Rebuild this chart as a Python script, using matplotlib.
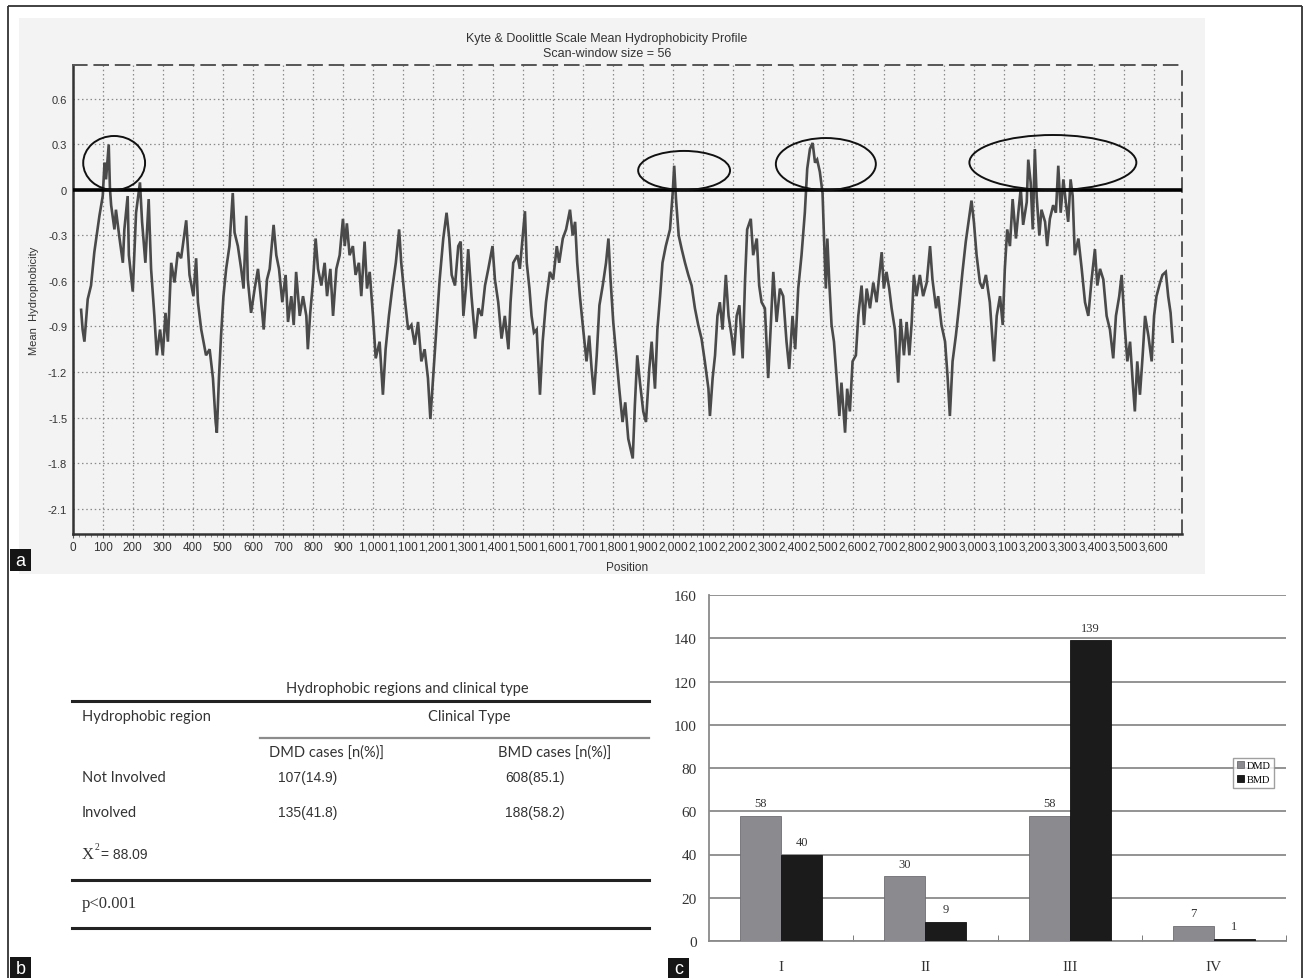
import matplotlib
matplotlib.use("Agg")
import numpy as np
import matplotlib.pyplot as plt
from matplotlib.patches import Ellipse, Rectangle
from matplotlib.ticker import MultipleLocator, FixedLocator, FuncFormatter

W, H, DPI = 1303, 979, 100

# ---------------------------------------------------------------------------
# Kyte & Doolittle mean hydrophobicity profile (scan window 56): (position, value)
profile_n_term = [
    (28, -0.79), (33, -0.92), (39, -1.00), (50, -0.72), (61, -0.63), (72, -0.41),
    (89, -0.17), (100, -0.04), (106, 0.18), (111, 0.07), (120, 0.30), (124, 0.01),
    (128, -0.10), (139, -0.26), (144, -0.13), (156, -0.32), (167, -0.48), (172, -0.26),
    (183, -0.04), (187, -0.43), (200, -0.67), (211, -0.15), (224, 0.05), (231, -0.21),
    (242, -0.48), (253, -0.06), (261, -0.52), (272, -0.83), (280, -1.09), (291, -0.92),
    (300, -1.09), (309, -0.81), (317, -1.00), (328, -0.48), (339, -0.61), (350, -0.41),
    (361, -0.45), (378, -0.20), (389, -0.56), (402, -0.70), (411, -0.45), (417, -0.74),
    (428, -0.92), (444, -1.09), (456, -1.05), (467, -1.24), (476, -1.53), (480, -1.60),
    (487, -1.24), (494, -0.96), (502, -0.70), (511, -0.52), (522, -0.37), (533, -0.02),
    (539, -0.28), (550, -0.37), (561, -0.52), (569, -0.65), (578, -0.17), (583, -0.59),
    (594, -0.81), (606, -0.65), (617, -0.52), (628, -0.74), (636, -0.92), (647, -0.59),
    (656, -0.52), (669, -0.23), (678, -0.43), (687, -0.52), (698, -0.74), (709, -0.56),
    (717, -0.87), (728, -0.70), (736, -0.89), (744, -0.54), (756, -0.83), (767, -0.70),
    (778, -0.83), (783, -1.05), (791, -0.81), (800, -0.61), (809, -0.32), (817, -0.52),
    (828, -0.63), (839, -0.48), (847, -0.70), (858, -0.52), (867, -0.83), (878, -0.52),
    (889, -0.43), (900, -0.19), (906, -0.37), (913, -0.22), (922, -0.43), (933, -0.37),
    (942, -0.56), (953, -0.48), (961, -0.70), (972, -0.34), (980, -0.65), (989, -0.54),
    (1000, -0.83), (1009, -1.11), (1022, -1.00), (1033, -1.35), (1042, -1.05), (1053, -0.83),
    (1064, -0.65), (1076, -0.48), (1087, -0.26), (1094, -0.48), (1106, -0.72), (1117, -0.92),
    (1128, -0.89), (1139, -1.02), (1150, -0.87), (1161, -1.13), (1172, -1.05), (1183, -1.24),
    (1191, -1.51), (1200, -1.24), (1211, -0.92), (1222, -0.59),
]
profile_central = [
    (1234, -0.32), (1245, -0.15), (1254, -0.32), (1262, -0.56), (1273, -0.63), (1284, -0.37),
    (1292, -0.34), (1301, -0.83), (1310, -0.63), (1317, -0.39), (1328, -0.70), (1340, -0.98),
    (1351, -0.78), (1362, -0.83), (1373, -0.63), (1384, -0.52), (1398, -0.37), (1406, -0.59),
    (1417, -0.74), (1428, -0.98), (1439, -0.83), (1451, -1.05), (1458, -0.74), (1467, -0.48),
    (1481, -0.43), (1489, -0.52), (1498, -0.32), (1506, -0.14), (1512, -0.48), (1521, -0.65),
    (1528, -0.83), (1536, -0.94), (1545, -0.92), (1556, -1.35), (1565, -1.00), (1576, -0.74),
    (1589, -0.54), (1600, -0.59), (1612, -0.37), (1620, -0.48), (1632, -0.32), (1643, -0.26),
    (1656, -0.13), (1665, -0.30), (1673, -0.21), (1680, -0.48), (1689, -0.70), (1700, -0.92),
    (1711, -1.13), (1720, -0.96), (1728, -1.18), (1736, -1.35), (1745, -1.09), (1754, -0.76),
    (1765, -0.63), (1776, -0.48), (1784, -0.32), (1791, -0.59), (1800, -0.87), (1809, -1.07),
    (1820, -1.31), (1831, -1.53), (1840, -1.40), (1850, -1.64), (1858, -1.71), (1865, -1.77),
    (1872, -1.42), (1880, -1.09), (1889, -1.27), (1900, -1.46), (1909, -1.53), (1920, -1.18),
    (1928, -1.00), (1939, -1.31), (1947, -0.92), (1956, -0.70), (1964, -0.48), (1975, -0.37),
    (1989, -0.26), (1998, -0.02), (2003, 0.16), (2009, -0.06), (2018, -0.30), (2028, -0.39),
    (2039, -0.48), (2050, -0.56), (2061, -0.63), (2072, -0.78), (2083, -0.89), (2094, -0.98),
    (2105, -1.13), (2117, -1.31), (2122, -1.49), (2131, -1.24), (2139, -1.09), (2147, -0.83),
    (2155, -0.74), (2164, -0.92), (2175, -0.56), (2184, -0.83), (2194, -0.96), (2202, -1.09),
    (2211, -0.83), (2220, -0.76), (2231, -1.11), (2239, -0.59), (2246, -0.26), (2258, -0.19),
    (2266, -0.43), (2278, -0.32), (2286, -0.63), (2294, -0.74), (2305, -0.78), (2316, -1.24),
    (2324, -0.92), (2333, -0.54), (2344, -0.87), (2355, -0.65), (2366, -0.70), (2377, -1.00),
    (2386, -1.18), (2397, -0.83), (2406, -1.05), (2416, -0.65), (2427, -0.43), (2438, -0.15),
    (2446, 0.14), (2455, 0.27),
]
profile_c_term = [
    (2464, 0.31), (2472, 0.18), (2479, 0.20), (2488, 0.12), (2497, -0.02), (2502, -0.32),
    (2508, -0.65), (2513, -0.32), (2519, -0.59), (2527, -0.89), (2535, -1.00), (2544, -1.24),
    (2553, -1.49), (2560, -1.27), (2572, -1.60), (2579, -1.31), (2588, -1.46), (2597, -1.13),
    (2608, -1.09), (2616, -0.83), (2627, -0.63), (2635, -0.89), (2644, -0.65), (2655, -0.78),
    (2666, -0.61), (2677, -0.74), (2686, -0.56), (2694, -0.41), (2701, -0.65), (2710, -0.54),
    (2719, -0.65), (2727, -0.78), (2738, -0.92), (2749, -1.27), (2757, -0.85), (2768, -1.09),
    (2777, -0.87), (2786, -1.09), (2794, -0.87), (2801, -0.56), (2810, -0.70), (2821, -0.56),
    (2832, -0.70), (2844, -0.61), (2855, -0.37), (2863, -0.59), (2875, -0.78), (2882, -0.70),
    (2893, -0.89), (2905, -1.00), (2913, -1.22), (2921, -1.49), (2930, -1.13), (2941, -0.96),
    (2952, -0.76), (2963, -0.54), (2974, -0.34), (2986, -0.17), (2993, -0.07), (3001, -0.21),
    (3010, -0.43), (3021, -0.61), (3030, -0.65), (3041, -0.56), (3054, -0.74), (3068, -1.13),
    (3077, -0.83), (3088, -0.70), (3097, -0.89), (3104, -0.52), (3112, -0.26), (3121, -0.37),
    (3130, -0.06), (3141, -0.32), (3149, -0.15), (3157, 0.01), (3165, -0.23), (3177, -0.08),
    (3182, 0.20), (3190, 0.05), (3197, -0.26), (3204, 0.27), (3210, -0.04), (3219, -0.30),
    (3226, -0.13), (3238, -0.21), (3245, -0.37), (3254, -0.19), (3265, -0.10), (3274, -0.15),
    (3282, 0.16), (3290, -0.15), (3299, 0.07), (3307, -0.08), (3315, -0.21), (3323, 0.07),
    (3330, -0.04), (3337, -0.43), (3349, -0.32), (3360, -0.52), (3371, -0.74), (3382, -0.83),
    (3393, -0.59), (3404, -0.39), (3412, -0.63), (3421, -0.52), (3432, -0.59), (3443, -0.83),
    (3454, -0.92), (3465, -1.11), (3474, -0.83), (3485, -0.70), (3493, -0.56), (3504, -0.92),
    (3512, -1.13), (3521, -1.00), (3530, -1.27), (3537, -1.46), (3545, -1.13), (3554, -1.35),
    (3563, -1.09), (3571, -0.83), (3582, -0.96), (3593, -1.13), (3601, -0.83), (3609, -0.70),
    (3621, -0.61), (3629, -0.56), (3640, -0.54), (3648, -0.70), (3656, -0.81), (3663, -1.00),
]

# circled hydrophobic regions (centre position, centre value, width, height)
region_pos = [138, 2036, 2508, 3264]
region_val = [0.178, 0.129, 0.171, 0.181]
region_width = [206, 306, 333, 556]
region_height = [0.356, 0.257, 0.343, 0.363]

# ---------------------------------------------------------------------------
# clinical type vs hydrophobic region table
table_title = "Hydrophobic regions and clinical type"
row_labels = ["Not Involved", "Involved"]
dmd_cells = ["107(14.9)", "135(41.8)"]
bmd_cells = ["608(85.1)", "188(58.2)"]
chi_square = "88.09"
p_text = "p<0.001"

# bar chart: cases per group
groups = ["I", "II", "III", "IV"]
dmd_counts = [58, 30, 58, 7]
bmd_counts = [40, 9, 139, 1]

NARROW = ["Liberation Sans Narrow", "Liberation Sans"]
SERIF = ["Liberation Serif", "DejaVu Serif"]

fig = plt.figure(figsize=(W / DPI, H / DPI), dpi=DPI)

# full-figure canvas in pixel units for backgrounds, frame, table and panel tags
bg = fig.add_axes([0, 0, 1, 1], zorder=0)
bg.set_xlim(0, W)
bg.set_ylim(H, 0)
bg.axis("off")
bg.add_patch(Rectangle((19, 19), 1186, 556, facecolor="#f3f3f3", edgecolor="none"))
for xs, ys in [([8, 1302], [7, 7]), ([8, 8], [7, 979]), ([1302, 1302], [7, 979])]:
    bg.plot(xs, ys, color="#333333", lw=1.3, solid_capstyle="butt")

# ------------------------------ panel a ------------------------------------
ax = fig.add_axes([72.7 / W, 1 - 535 / H, 1109 / W, 469 / H], zorder=2)
ax.patch.set_alpha(0)
pos = [p for p, _ in profile_n_term + profile_central + profile_c_term]
val = [v for _, v in profile_n_term + profile_central + profile_c_term]
ax.plot(pos, val, color="#4a4a4a", lw=1.9, solid_joinstyle="miter", zorder=3)
ax.axhline(0, color="black", lw=2.6, zorder=4)
for cx, cy, w, h in zip(region_pos, region_val, region_width, region_height):
    ax.add_patch(Ellipse((cx, cy), w, h, fill=False, edgecolor="#111111", lw=1.4, zorder=5))

ax.set_xlim(0, 3693)
ax.set_ylim(-2.268, 0.824)
ax.xaxis.set_major_locator(MultipleLocator(100))
ax.xaxis.set_minor_locator(MultipleLocator(20))
ax.xaxis.set_major_formatter(FuncFormatter(lambda v, _: f"{int(round(v)):,}"))
ax.yaxis.set_major_locator(FixedLocator([0.6, 0.3, 0, -0.3, -0.6, -0.9, -1.2, -1.5, -1.8, -2.1]))
ax.yaxis.set_major_formatter(FuncFormatter(lambda v, _: "0" if abs(v) < 1e-9 else f"{v:.1f}"))
ax.grid(True, which="major", ls=(0, (1.2, 2.2)), color="#8a8a8a", lw=0.9)
ax.tick_params(axis="y", length=0, pad=4, labelsize=8, labelcolor="#333333")
ax.tick_params(axis="x", which="major", length=3, pad=2, labelsize=8.5, labelcolor="#333333", color="#555555")
ax.tick_params(axis="x", which="minor", length=2, color="#777777")
for lab in ax.get_xticklabels() + ax.get_yticklabels():
    lab.set_fontfamily(NARROW)
for side in ["left", "bottom"]:
    ax.spines[side].set_color("#333333")
    ax.spines[side].set_linewidth(1.8)
for side in ["top", "right"]:
    ax.spines[side].set_color("#555555")
    ax.spines[side].set_linewidth(1.4)
    ax.spines[side].set_linestyle((0, (7, 4)))
ax.set_ylabel("Mean  Hydrophobicity", fontsize=8, family=NARROW, color="#333333")
ax.yaxis.set_label_coords(-0.0304, 0.5)
ax.set_xlabel("Position", fontsize=8.5, family=NARROW, color="#333333")
ax.xaxis.set_label_coords(0.5, -0.058)

bg.text(607, 39, "Kyte & Doolittle Scale Mean Hydrophobicity Profile", ha="center", va="center",
        fontsize=9, family=NARROW, color="#333333")
bg.text(607, 54, "Scan-window size = 56", ha="center", va="center",
        fontsize=9, family=NARROW, color="#333333")

# ------------------------------ panel b ------------------------------------
TXT = dict(family=["Lato", "DejaVu Sans"], fontsize=10.5, color="#333333", va="center")
NUM = dict(family=["Liberation Sans"], fontsize=10, color="#333333", va="center")
bg.text(407, 689, table_title, ha="center", **TXT)
bg.plot([72, 649], [702, 702], color="#222222", lw=2.2)
bg.text(82, 717, "Hydrophobic region", ha="left", **TXT)
bg.text(469, 717, "Clinical Type", ha="center", **TXT)
bg.plot([260, 649], [739, 739], color="#8c8c8c", lw=1.6)
bg.text(269, 753, "DMD cases [n(%)]", ha="left", **TXT)
bg.text(498, 753, "BMD cases [n(%)]", ha="left", **TXT)
for i, (lab, d, b) in enumerate(zip(row_labels, dmd_cells, bmd_cells)):
    y = 778 + 35 * i
    bg.text(82, y, lab, ha="left", **TXT)
    bg.text(278, y, d, ha="left", **NUM)
    bg.text(505, y, b, ha="left", **NUM)
bg.text(82, 855, "X", ha="left", va="center", family=SERIF, fontsize=12, color="#333333")
bg.text(95, 848, "2", ha="left", va="center", family=SERIF, fontsize=7, color="#333333")
bg.text(101, 855, "= " + chi_square, ha="left", **NUM)
bg.plot([72, 649], [881, 881], color="#222222", lw=2.2)
bg.text(82, 904, p_text, ha="left", va="center", family=SERIF, fontsize=12, color="#333333")
bg.plot([72, 649], [929, 929], color="#222222", lw=2.2)

# ------------------------------ panel c ------------------------------------
axb = fig.add_axes([709 / W, 1 - 942 / H, 577 / W, 346 / H], zorder=2)
x = np.arange(len(groups))
bw = 0.284
axb.bar(x - bw / 2, dmd_counts, bw, color="#8b8b8f", edgecolor="#6f6f73", lw=0.6, label="DMD", zorder=3)
axb.bar(x + bw / 2, bmd_counts, bw, color="#1b1b1b", edgecolor="#111111", lw=0.6, label="BMD", zorder=3)
for xi, d, b in zip(x, dmd_counts, bmd_counts):
    axb.text(xi - bw / 2, d + 3, str(d), ha="center", va="bottom", family=SERIF, fontsize=9, color="#333333")
    axb.text(xi + bw / 2, b + 3, str(b), ha="center", va="bottom", family=SERIF, fontsize=9, color="#333333")
axb.set_xlim(-0.5, 3.5)
axb.set_ylim(0, 160)
axb.yaxis.set_major_locator(MultipleLocator(20))
axb.grid(axis="y", color="#8a8a8a", lw=1.3, zorder=0)
axb.set_axisbelow(True)
axb.set_xticks(x, groups)
axb.set_xticks([0.5, 1.5, 2.5, 3.5], minor=True)
axb.tick_params(axis="x", which="major", length=0, pad=14, labelsize=11)
axb.tick_params(axis="x", which="minor", length=4, direction="in", color="#666666")
axb.tick_params(axis="y", length=0, pad=9, labelsize=11)
for lab in axb.get_xticklabels() + axb.get_yticklabels():
    lab.set_fontfamily(SERIF)
    lab.set_color("#333333")
for side in ["top", "right"]:
    axb.spines[side].set_visible(False)
for side in ["left", "bottom"]:
    axb.spines[side].set_color("#8a8a8a")
    axb.spines[side].set_linewidth(1.3)
leg = axb.legend(loc=(0.908, 0.442), prop={"family": SERIF, "size": 7.5}, frameon=True, fancybox=False,
                 handlelength=0.7, handleheight=0.7, handletextpad=0.3, borderpad=0.35,
                 labelspacing=0.45, borderaxespad=0)
leg.get_frame().set_edgecolor("#888888")
leg.get_frame().set_linewidth(1.0)

# panel tags
for (tx, ty, tw, th), letter in zip([(10, 550, 21, 22), (10, 958, 21, 21), (668, 959, 21, 20)], "abc"):
    bg.add_patch(Rectangle((tx, ty), tw, th, facecolor="#151515", edgecolor="none", zorder=6))
    bg.text(tx + tw / 2, ty + th / 2 + 1, letter, ha="center", va="center", color="white",
            fontsize=13, family=["Liberation Sans"], zorder=7)

fig.savefig("out.png", dpi=DPI)
